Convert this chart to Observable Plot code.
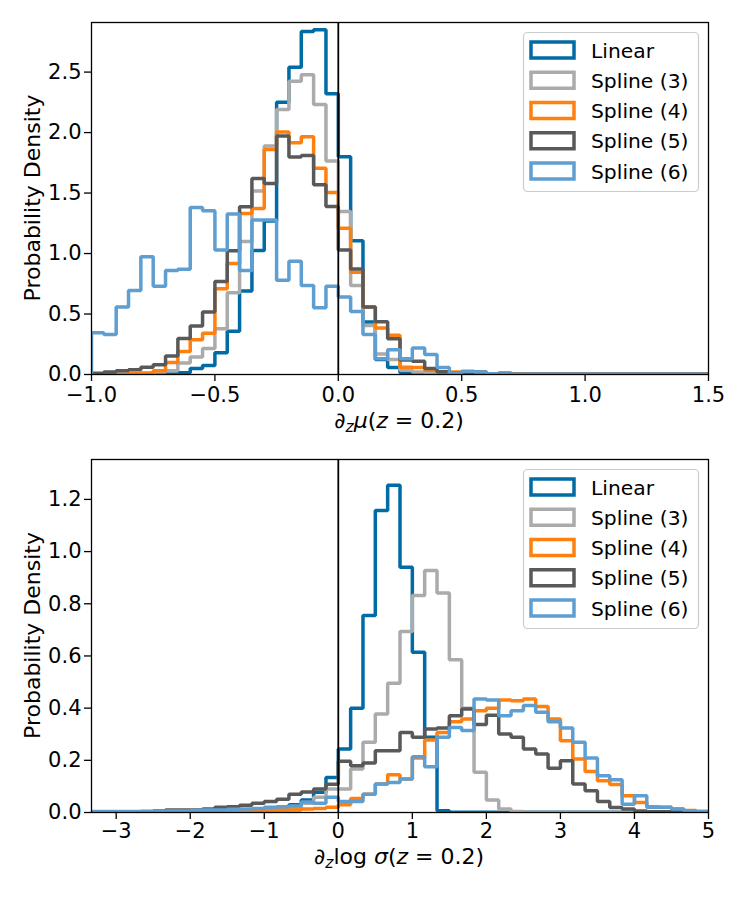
<!DOCTYPE html>
<html>
<head>
<meta charset="utf-8">
<script src="https://cdn.jsdelivr.net/npm/d3@7"></script>
<script src="https://cdn.jsdelivr.net/npm/@observablehq/plot@0.6"></script>
<style>
  html, body { margin: 0; padding: 0; background: white; }
  #chart svg { display: block; }
</style>
</head>
<body>
<div id="chart"></div>
<script>
const series = ["Linear", "Spline (3)", "Spline (4)", "Spline (5)", "Spline (6)"];
const colors = ["#006BA4", "#ABABAB", "#FF800E", "#595959", "#5F9ED1"];

// Top panel: d_z mu(z=0.2), 50 bins of width 0.05 starting at -1.0
const muBinStart = -1.0;
const muBinWidth = 0.05;
const muLinear = [0.001,0.001,0.001,0.002,0.002,0.003,0.005,0.014,0.05,0.075,0.18,0.357,0.69,1.025,1.27,2.25,2.54,2.836,2.85,2.32,1.80,1.106,0.433,0.125,0.058,0.015,0.008,0.003,0.002,0.001,0.001,0.001,0.001,0.001,0.001,0.001,0.001,0.001,0.001,0.001,0.001,0.001,0.001,0.001,0.001,0.001,0.001,0.001,0.001,0.001];
const muSpline3 = [0.002,0.002,0.002,0.004,0.008,0.02,0.03,0.096,0.145,0.214,0.379,0.675,1.10,1.518,1.889,2.19,2.424,2.479,2.232,1.765,1.348,0.735,0.406,0.17,0.124,0.035,0.02,0.013,0.005,0.002,0.002,0.002,0.002,0.002,0.002,0.002,0.002,0.002,0.002,0.002,0.002,0.002,0.002,0.002,0.002,0.002,0.002,0.002,0.002,0.002];
const muSpline4 = [0.003,0.003,0.003,0.008,0.012,0.03,0.1,0.19,0.288,0.34,0.708,0.917,1.33,1.372,1.86,2.004,1.916,1.966,1.705,1.504,1.21,0.845,0.557,0.384,0.324,0.06,0.058,0.035,0.015,0.02,0.008,0.006,0.005,0.015,0.004,0.002,0.002,0.002,0.002,0.002,0.002,0.002,0.002,0.002,0.002,0.002,0.002,0.002,0.002,0.002];
const muSpline5 = [0.01,0.02,0.03,0.04,0.06,0.08,0.153,0.297,0.4,0.516,0.769,1.024,1.387,1.62,1.58,1.971,1.798,1.81,1.568,1.389,1.03,0.873,0.557,0.436,0.296,0.12,0.11,0.05,0.022,0.01,0.012,0.02,0.006,0.004,0.002,0.002,0.002,0.002,0.002,0.002,0.002,0.002,0.002,0.002,0.002,0.002,0.002,0.002,0.002,0.002];
const muSpline6 = [0.346,0.33,0.557,0.694,0.974,0.73,0.86,0.87,1.38,1.353,1.03,1.326,0.86,1.277,1.277,0.78,0.936,0.735,0.552,0.73,0.64,0.52,0.33,0.13,0.205,0.13,0.22,0.165,0.058,0.01,0.027,0.02,0.006,0.005,0.003,0.003,0.003,0.003,0.003,0.003,0.003,0.003,0.003,0.003,0.003,0.003,0.003,0.003,0.003,0.003];
const muTicksX = [-1.0, -0.5, 0.0, 0.5, 1.0, 1.5];
const muTicksY = [0.0, 0.5, 1.0, 1.5, 2.0, 2.5];

// Bottom panel: d_z log sigma(z=0.2), 50 bins of width 1/6 starting at -10/3
const sgBinStart = -10 / 3;
const sgBinWidth = 1 / 6;
const sgLinear = [0.001,0.001,0.001,0.001,0.001,0.001,0.001,0.001,0.001,0.001,0.001,0.001,0.001,0.002,0.008,0.015,0.03,0.048,0.078,0.134,0.243,0.40,0.755,1.158,1.254,0.94,0.614,0.288,0.007,0.001,0.001,0.001,0.001,0.001,0.001,0.001,0.001,0.001,0.001,0.001,0.001,0.001,0.001,0.001,0.001,0.001,0.001,0.001,0.001,0.001];
const sgSpline3 = [0.001,0.001,0.001,0.001,0.001,0.001,0.001,0.001,0.001,0.001,0.001,0.002,0.002,0.003,0.004,0.01,0.02,0.035,0.058,0.09,0.09,0.167,0.269,0.378,0.495,0.694,0.832,0.928,0.841,0.585,0.40,0.154,0.048,0.013,0.004,0.001,0.001,0.001,0.001,0.001,0.001,0.001,0.001,0.001,0.001,0.001,0.001,0.001,0.001,0.001];
const sgSpline4 = [0.001,0.001,0.001,0.001,0.002,0.002,0.002,0.003,0.003,0.003,0.004,0.005,0.006,0.008,0.01,0.01,0.01,0.013,0.015,0.02,0.03,0.054,0.07,0.109,0.145,0.128,0.209,0.278,0.307,0.348,0.358,0.39,0.40,0.431,0.428,0.435,0.406,0.358,0.275,0.205,0.157,0.122,0.107,0.064,0.038,0.022,0.02,0.013,0.008,0.005];
const sgSpline5 = [0.003,0.003,0.003,0.003,0.004,0.006,0.01,0.01,0.01,0.013,0.02,0.022,0.028,0.035,0.042,0.051,0.07,0.079,0.09,0.108,0.196,0.179,0.19,0.237,0.237,0.307,0.288,0.32,0.324,0.371,0.397,0.337,0.373,0.301,0.288,0.243,0.224,0.17,0.198,0.109,0.083,0.042,0.019,0.013,0.006,0.003,0.003,0.003,0.003,0.003];
const sgSpline6 = [0.004,0.004,0.004,0.004,0.004,0.004,0.006,0.006,0.008,0.01,0.01,0.012,0.013,0.015,0.02,0.022,0.025,0.04,0.035,0.058,0.042,0.042,0.07,0.109,0.115,0.128,0.214,0.175,0.288,0.326,0.314,0.435,0.431,0.371,0.39,0.41,0.384,0.348,0.324,0.269,0.209,0.141,0.126,0.032,0.064,0.02,0.02,0.013,0.006,0.003];
const sgTicksX = [-3, -2, -1, 0, 1, 2, 3, 4, 5];
const sgTicksY = [0.0, 0.2, 0.4, 0.6, 0.8, 1.0, 1.2];

// Build step-outline points (like matplotlib histtype="step") from bin values
function outline(start, width, values) {
  const pts = [{x: start, y: 0}];
  values.forEach((v, i) => pts.push({x: start + i * width, y: v}));
  const end = start + values.length * width;
  pts.push({x: end, y: values[values.length - 1]});
  pts.push({x: end, y: 0});
  return pts;
}

const W = 747;
const FONT = "DejaVu Sans";

function panel({start, width, data, xDomain, yDomain, xTicks, yTicks, xFmt, height, marginBottom, xPad}) {
  const lines = data.map((vals, i) =>
    Plot.line(outline(start, width, vals), {
      x: "x", y: "y", stroke: colors[i], strokeWidth: 3.5,
      curve: "step-after", clip: true, strokeLinejoin: "miter"
    })
  );
  return Plot.plot({
    width: W, height,
    marginLeft: 91, marginRight: 39, marginTop: 22, marginBottom,
    style: {fontFamily: FONT, fontSize: "21px", background: "white", color: "black"},
    x: {domain: xDomain},
    y: {domain: yDomain},
    marks: [
      ...lines,
      Plot.ruleX([0], {stroke: "black", strokeWidth: 1.8}),
      Plot.frame({stroke: "black", strokeWidth: 1.3}),
      Plot.axisX({ticks: xTicks, tickFormat: xFmt, tickSize: 7, tickPadding: xPad, label: null, strokeWidth: 1.3}),
      Plot.axisY({ticks: yTicks, tickFormat: d3.format(".1f"), tickSize: 7, tickPadding: 3, label: null, strokeWidth: 1.3})
    ]
  });
}

function decorate(svg, frameTop, frameBottom, labelBaseline, labelParts) {
  const s = d3.select(svg);
  // y label
  s.append("text")
    .attr("transform", `translate(40,${(frameTop + frameBottom) / 2}) rotate(-90)`)
    .attr("text-anchor", "middle")
    .attr("font-family", FONT).attr("font-size", 22).attr("fill", "black")
    .text("Probability Density");
  // x label with math
  const t = s.append("text")
    .attr("x", 399).attr("y", labelBaseline)
    .attr("text-anchor", "middle")
    .attr("font-family", FONT).attr("font-size", 22).attr("fill", "black");
  labelParts.forEach(p => {
    const ts = t.append("tspan").text(p.t);
    if (p.i) ts.attr("font-style", "italic");
    if (p.s) ts.attr("font-size", 15.5);
    if (p.dy) ts.attr("dy", p.dy);
  });
  // legend
  const g = s.append("g").attr("text-anchor", "start");
  g.append("rect").attr("x", 523.5).attr("y", 32.5).attr("width", 175).attr("height", 159)
    .attr("rx", 4).attr("fill", "white").attr("fill-opacity", 0.8)
    .attr("stroke", "#cccccc").attr("stroke-width", 1.2);
  series.forEach((name, i) => {
    const cy = 50 + i * 30.25;
    g.append("rect").attr("x", 531).attr("y", cy - 8).attr("width", 43).attr("height", 16)
      .attr("fill", "none").attr("stroke", colors[i]).attr("stroke-width", 3.5);
    g.append("text").attr("x", 591).attr("y", cy + 7.5)
      .attr("text-anchor", "start")
      .attr("font-family", FONT).attr("font-size", 20.3).attr("fill", "black").text(name);
  });
}

const topPanel = panel({
  start: muBinStart, width: muBinWidth,
  data: [muLinear, muSpline3, muSpline4, muSpline5, muSpline6],
  xDomain: [-1, 1.5], yDomain: [0, 2.91], xTicks: muTicksX, yTicks: muTicksY,
  xFmt: d3.format(".1f"), height: 437, marginBottom: 63, xPad: 6
});
decorate(topPanel, 22, 374, 428, [
  {t: "∂", i: true}, {t: "z", i: true, s: true, dy: 4}, {t: "μ", i: true, dy: -4},
  {t: "("}, {t: "z", i: true}, {t: " = 0.2)"}
]);

const bottomPanel = panel({
  start: sgBinStart, width: sgBinWidth,
  data: [sgLinear, sgSpline3, sgSpline4, sgSpline5, sgSpline6],
  xDomain: [-10 / 3, 5], yDomain: [0, 1.353], xTicks: sgTicksX, yTicks: sgTicksY,
  xFmt: d3.format("d"), height: 460, marginBottom: 85, xPad: 4
});
decorate(bottomPanel, 22, 375, 427, [
  {t: "∂", i: true}, {t: "z", i: true, s: true, dy: 4}, {t: "log ", dy: -4},
  {t: "σ", i: true}, {t: "("}, {t: "z", i: true}, {t: " = 0.2)"}
]);

document.getElementById("chart").append(topPanel, bottomPanel);
</script>
</body>
</html>
